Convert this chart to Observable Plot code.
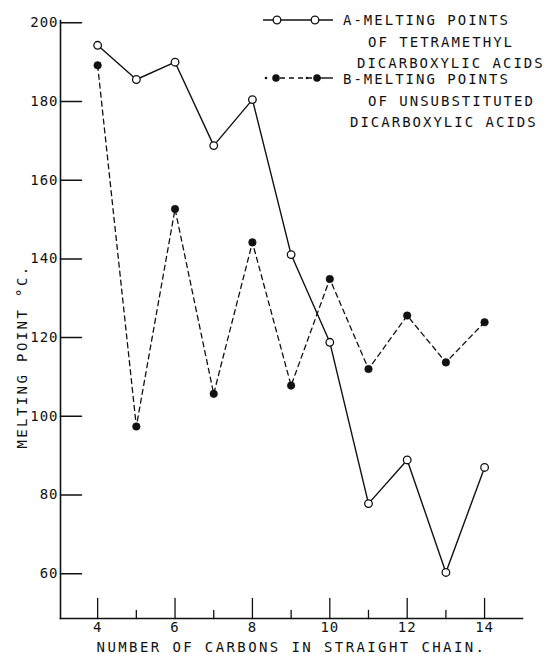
<!DOCTYPE html>
<html><head><meta charset="utf-8">
<script src="https://cdn.jsdelivr.net/npm/d3@7"></script>
<script src="https://cdn.jsdelivr.net/npm/@observablehq/plot@0.6"></script>
<style>
body{margin:0;background:#fff;}
#wrap{position:relative;width:554px;height:654px;overflow:hidden;}
#wrap svg.plot{display:block;}
.lg{position:absolute;font-family:"DejaVu Sans Mono";font-size:14px;letter-spacing:2px;color:#111;white-space:pre;line-height:16px;}
.sym{position:absolute;}
</style></head><body><div id="wrap"></div>
<script>
// ---- data ----
const carbons = [4, 5, 6, 7, 8, 9, 10, 11, 12, 13, 14];
const tetramethyl = [194.3, 185.6, 190.0, 168.8, 180.5, 141.1, 118.8, 77.8, 88.9, 60.3, 87.0];
const unsubstituted = [189.2, 97.4, 152.7, 105.7, 144.2, 107.8, 134.9, 112.0, 125.6, 113.7, 123.9];
const yTicks = [60, 80, 100, 120, 140, 160, 180, 200];
const xMajor = [4, 6, 8, 10, 12, 14];
const xMinor = [5, 7, 9, 11, 13];
const yLabel = "MELTING POINT °C.";
const xLabel = "NUMBER OF CARBONS IN STRAIGHT CHAIN.";
const legendA = ["A-MELTING POINTS", "OF TETRAMETHYL", "DICARBOXYLIC ACIDS"];
const legendB = ["B-MELTING POINTS", "OF UNSUBSTITUTED", "DICARBOXYLIC ACIDS"];

const dataA = carbons.map((c, i) => ({c, t: tetramethyl[i]}));
const dataB = carbons.map((c, i) => ({c, t: unsubstituted[i]}));
const ink = "#111";
const stick = {draw(context, l) { context.moveTo(0, 0); context.lineTo(0, -l); }};

const chart = Plot.plot({
  width: 554, height: 654,
  marginLeft: 60, marginRight: 32, marginTop: 20, marginBottom: 36,
  style: {fontFamily: "DejaVu Sans Mono", fontSize: "14px", color: ink, background: "#fff"},
  x: {domain: [3.04, 14.98]},
  y: {domain: [48.6, 200.6]},
  marks: [
    Plot.frame({anchor: "left", stroke: ink, strokeWidth: 1.6}),
    Plot.frame({anchor: "bottom", stroke: ink, strokeWidth: 1.6}),
    // inward ticks
    Plot.vector(yTicks, {y: d => d, frameAnchor: "left", rotate: 90, length: 21, anchor: "start", shape: stick, stroke: ink, strokeWidth: 1.5}),
    Plot.vector(xMajor, {x: d => d, frameAnchor: "bottom", rotate: 0, length: 20, anchor: "start", shape: stick, stroke: ink, strokeWidth: 1.3}),
    Plot.vector(xMinor, {x: d => d, frameAnchor: "bottom", rotate: 0, length: 8, anchor: "start", shape: stick, stroke: ink, strokeWidth: 1.3}),
    Plot.axisY(yTicks, {tickSize: 0, tickPadding: 2, label: null, fill: ink}),
    Plot.axisX(xMajor, {tickSize: 0, tickPadding: 4, label: null, fill: ink}),
    Plot.line(dataB, {x: "c", y: "t", stroke: ink, strokeWidth: 1.3, strokeDasharray: "5,4"}),
    Plot.line(dataA, {x: "c", y: "t", stroke: ink, strokeWidth: 1.4}),
    Plot.dot(dataB, {x: "c", y: "t", r: 3.8, fill: ink, stroke: ink, strokeWidth: 0.5}),
    Plot.dot(dataA, {x: "c", y: "t", r: 3.8, fill: "white", stroke: ink, strokeWidth: 1.3}),
    Plot.text([yLabel], {frameAnchor: "left", textAnchor: "middle", lineAnchor: "middle", rotate: -90, dx: -38, dy: 37, fill: ink, fontSize: 14}),
    Plot.text([xLabel], {frameAnchor: "bottom", textAnchor: "middle", lineAnchor: "middle", dy: 29, fill: ink, fontSize: 14})
  ]
});
chart.classList.add("plot");
chart.querySelectorAll("g[aria-label='text'] text").forEach(t => t.style.letterSpacing = "2.4px");
chart.querySelectorAll("g[aria-label='y-axis tick label'] text, g[aria-label='x-axis tick label'] text").forEach(t => t.style.letterSpacing = "1px");
const wrap = document.getElementById("wrap");
wrap.appendChild(chart);

// ---- legend overlay ----
function addText(str, left, top) {
  const d = document.createElement("div");
  d.className = "lg"; d.textContent = str;
  d.style.left = left + "px"; d.style.top = top + "px";
  wrap.appendChild(d);
}
const ns = "http://www.w3.org/2000/svg";
function el(name, attrs, parent) {
  const e = document.createElementNS(ns, name);
  for (const k in attrs) e.setAttribute(k, attrs[k]);
  parent.appendChild(e); return e;
}
function addSym(top, filled) {
  const s = document.createElementNS(ns, "svg");
  s.setAttribute("class", "sym"); s.setAttribute("width", 76); s.setAttribute("height", 12);
  s.style.left = "260px"; s.style.top = (top - 6) + "px";
  if (!filled) {
    el("line", {x1: 3, x2: 73, y1: 6, y2: 6, stroke: ink, "stroke-width": 1.4}, s);
    [17, 55].forEach(cx => el("circle", {cx, cy: 6, r: 3.8, fill: "white", stroke: ink, "stroke-width": 1.3}, s));
  } else {
    el("line", {x1: 20, x2: 52, y1: 6, y2: 6, stroke: ink, "stroke-width": 1.3, "stroke-dasharray": "5,4"}, s);
    el("line", {x1: 57, x2: 73, y1: 6, y2: 6, stroke: ink, "stroke-width": 1.4}, s);
    [6, 47].forEach(cx => el("circle", {cx, cy: 6, r: 1.3, fill: ink}, s));
    [16, 57].forEach(cx => el("circle", {cx, cy: 6, r: 3.8, fill: ink}, s));
  }
  wrap.appendChild(s);
}
addSym(20, false);
addSym(78, true);
addText(legendA[0], 343, 12);
addText(legendA[1], 368, 34);
addText(legendA[2], 357, 55);
addText(legendB[0], 343, 71);
addText(legendB[1], 368, 93);
addText(legendB[2], 350, 114);
</script></body></html>
